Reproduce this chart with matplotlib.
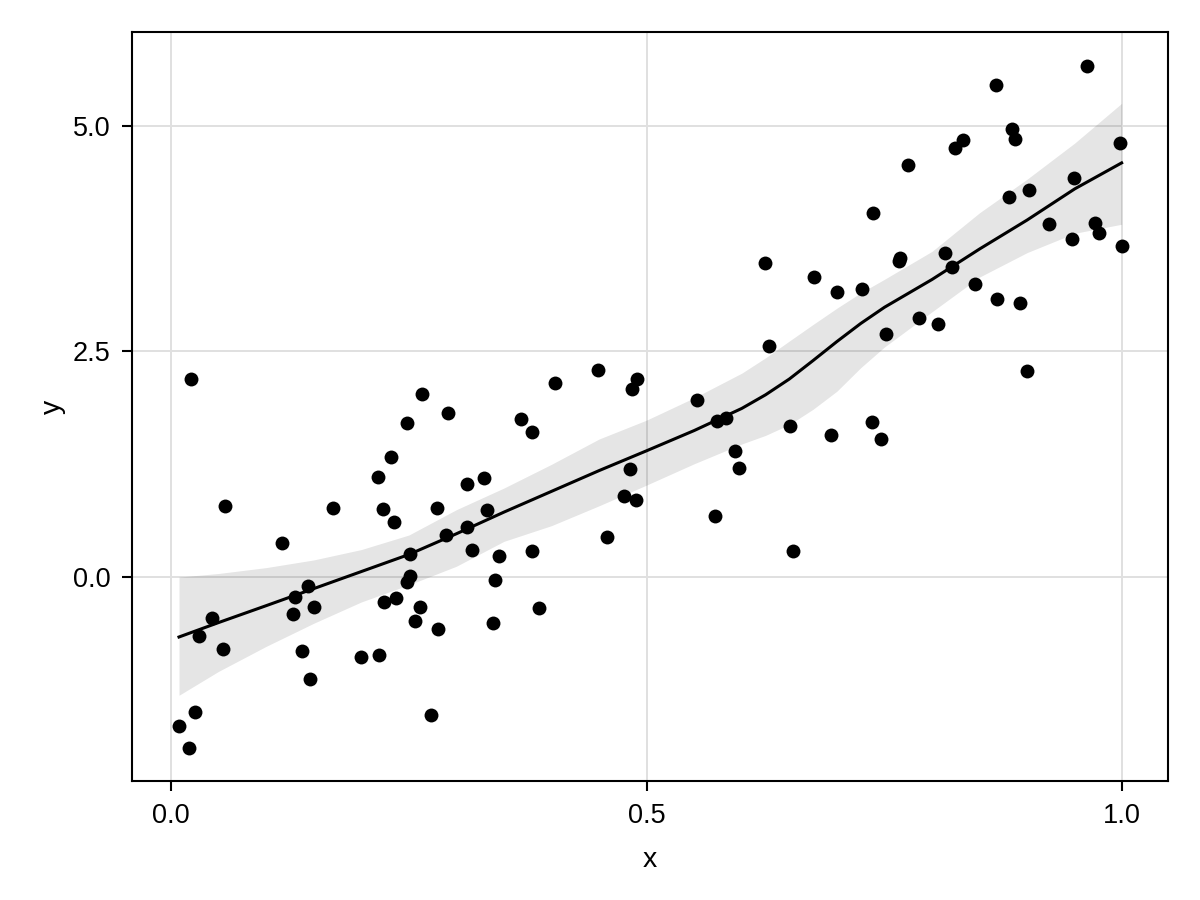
import matplotlib
matplotlib.use("Agg")
import matplotlib.pyplot as plt
import numpy as np

plt.rcParams['font.family'] = ['Liberation Sans', 'DejaVu Sans']

# scatter data
x_pts = [0.0207, 0.0084, 0.0186, 0.0256, 0.0291, 0.0431, 0.0547, 0.0571, 0.1170, 0.1280,
         0.1301, 0.1377, 0.1437, 0.1462, 0.1501, 0.1703, 0.2001, 0.2173, 0.2190, 0.2232,
         0.2237, 0.2313, 0.2345, 0.2366, 0.2478, 0.2510, 0.2478, 0.2510, 0.2566, 0.2621,
         0.2634, 0.2737, 0.2800, 0.2804, 0.2886, 0.2910, 0.3115, 0.3114, 0.3162, 0.3286,
         0.3323, 0.3389, 0.3404, 0.3449, 0.3677, 0.3796, 0.3796, 0.3866, 0.4035, 0.4490,
         0.4581, 0.4763, 0.4826, 0.4847, 0.4890, 0.4900, 0.5534, 0.5718, 0.5738, 0.5836,
         0.5930, 0.5973, 0.6239, 0.6286, 0.6509, 0.6540, 0.6761, 0.6937, 0.6996, 0.7259,
         0.7376, 0.7371, 0.7466, 0.7515, 0.7666, 0.7655, 0.7750, 0.7860, 0.8065, 0.8136,
         0.8215, 0.8325, 0.8244, 0.8447, 0.8672, 0.8682, 0.8804, 0.8843, 0.8872, 0.8920,
         0.9001, 0.9022, 0.9232, 0.9474, 0.9495, 0.9629, 0.9716, 0.9751, 0.9972, 0.9993]
y_pts = [2.198, -1.652, -1.892, -1.493, -0.651, -0.458, -0.798, 0.784, 0.380, -0.414,
         -0.218, -0.824, -0.100, -1.134, -0.329, 0.762, -0.884, 1.105, -0.861, 0.751,
         -0.277, 1.327, 0.610, -0.236, 1.704, 0.011, -0.059, 0.255, -0.484, -0.333,
         2.029, -1.533, 0.768, -0.576, 0.471, 1.820, 1.031, 0.554, 0.299, 1.100,
         0.743, -0.507, -0.033, 0.236, 1.755, 1.611, 0.288, -0.344, 2.147, 2.298,
         0.447, 0.901, 1.194, 2.081, 0.857, 2.198, 1.959, 0.679, 1.726, 1.766,
         1.397, 1.213, 3.481, 2.561, 1.677, 0.288, 3.323, 1.571, 3.156, 3.187,
         4.030, 1.722, 1.527, 2.691, 3.533, 3.503, 4.570, 2.866, 2.805, 3.595,
         3.440, 4.845, 4.759, 3.248, 5.455, 3.082, 4.213, 4.963, 4.859, 3.041,
         2.287, 4.294, 3.910, 3.747, 4.427, 5.669, 3.921, 3.817, 4.808, 3.670]

# smooth fit and confidence band
smooth_x = [0.0084, 0.05, 0.1, 0.15, 0.2, 0.25, 0.3, 0.35, 0.4, 0.45, 0.5,
            0.55, 0.6, 0.625, 0.65, 0.675, 0.7, 0.725, 0.75, 0.8, 0.85, 0.9, 0.95, 0.9993]
smooth_y = [-0.664, -0.504, -0.317, -0.128, 0.061, 0.25, 0.480, 0.720, 0.950, 1.180, 1.400,
            1.624, 1.869, 2.020, 2.195, 2.400, 2.610, 2.810, 2.990, 3.298, 3.636, 3.957, 4.302, 4.59]
band_hi = [0.0, 0.040, 0.105, 0.190, 0.305, 0.466, 0.747, 0.987, 1.25, 1.53, 1.74,
           1.987, 2.26, 2.43, 2.616, 2.80, 2.98, 3.15, 3.30, 3.61, 4.038, 4.41, 4.81, 5.25]
band_lo = [-1.31, -1.045, -0.768, -0.512, -0.276, -0.086, 0.12, 0.396, 0.57, 0.79, 1.02,
           1.256, 1.475, 1.57, 1.69, 1.86, 2.06, 2.32, 2.55, 2.94, 3.325, 3.596, 3.81, 3.91]

x_ticks = [0.0, 0.5, 1.0]
x_ticklabels = ["0.0", "0.5", "1.0"]
y_ticks = [0.0, 2.5, 5.0]
y_ticklabels = ["0.0", "2.5", "5.0"]

fig = plt.figure(figsize=(12, 9), dpi=100)
ax = fig.add_axes([0.11, 0.1322, 0.8633, 0.8322])

ax.set_axisbelow(True)
ax.grid(True, color='#e0e0e0', linewidth=1.44)

ax.fill_between(smooth_x, band_lo, band_hi, color='black', alpha=0.1, linewidth=0, zorder=2)
ax.plot(smooth_x, smooth_y, color='black', linewidth=2.2, zorder=3)
ax.scatter(x_pts, y_pts, s=100, color='black', linewidths=0, zorder=4)

ax.set_xlim(-0.041, 1.048)
ax.set_ylim(-2.26, 6.04)
ax.set_xticks(x_ticks)
ax.set_xticklabels(x_ticklabels)
ax.set_yticks(y_ticks)
ax.set_yticklabels(y_ticklabels)

for sp in ax.spines.values():
    sp.set_linewidth(1.5)
    sp.set_color('black')

ax.tick_params(axis='both', direction='out', length=7.2, width=1.5, color='black',
               labelsize=19.5, pad=8.5)
ax.set_xlabel("x", fontsize=20.5, labelpad=13)
ax.set_ylabel("y", fontsize=20.5, labelpad=5)

fig.savefig("out.png", dpi=100)
